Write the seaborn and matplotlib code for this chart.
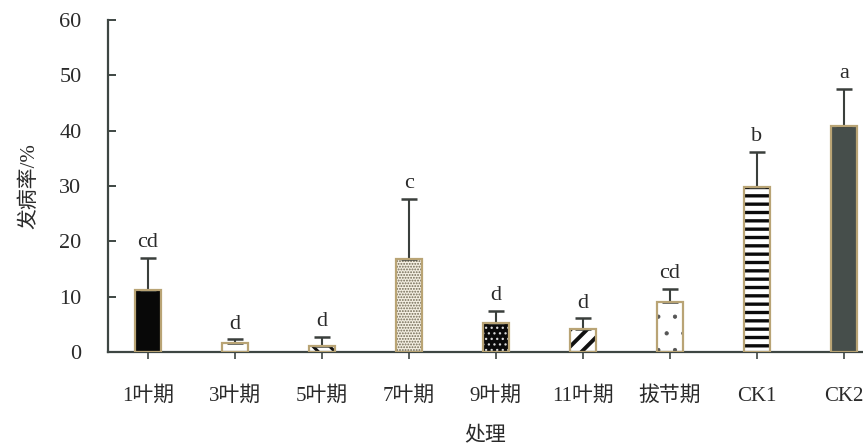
import matplotlib
matplotlib.use("Agg")
import matplotlib.pyplot as plt
from matplotlib.patches import Rectangle
import seaborn as sns
import pandas as pd

# Data: incidence (%) by treatment, upper error, significance letters
treatments = ["1叶期", "3叶期", "5叶期", "7叶期", "9叶期", "11叶期", "拔节期", "CK1", "CK2"]
incidence = [11.2, 1.6, 1.1, 16.8, 5.2, 4.1, 9.0, 29.8, 40.9]
error = [5.8, 0.7, 1.6, 10.9, 2.2, 2.0, 2.4, 6.4, 6.7]
letters = ["cd", "d", "d", "c", "d", "d", "cd", "b", "a"]

# Fill style per bar: (face colour, hatch colour, hatch pattern, hatch line width)
fills = [
    ("#080808", "#080808", "", 1.0),
    ("white", "#222222", "", 1.0),
    ("white", "#111111", "\\\\", 2.2),
    ("#f4efe2", "#6f6852", "......", 0.9),
    ("#0a0a0a", "#d8d8d8", "...", 0.9),
    ("white", "#111111", "//", 2.8),
    ("white", "#555555", ".", 0.6),
    ("white", "#0a0a0a", "--", 2.4),
    ("#464e4b", "#464e4b", "", 1.0),
]
edge_col = "#b9a475"
axis_col = "#3e4643"
text_col = "#2a2a2a"

df = pd.DataFrame({"treatment": treatments, "incidence": incidence})

sns.set_style("white")
plt.rcParams["font.family"] = ["Liberation Serif", "Noto Sans CJK SC"]

fig = plt.figure(figsize=(8.63, 4.46), dpi=100)
ax = fig.add_axes([0.125, 0.211, 0.875, 0.744])

sns.barplot(data=df, x="treatment", y="incidence", order=treatments,
            width=0.3, errorbar=None, ax=ax, color="white")

for p, (face, hcol, hatch, hlw) in zip(ax.patches, fills):
    p.set_facecolor(face)
    p.set_edgecolor(hcol)
    p.set_hatch(hatch)
    p.set_linewidth(0)
    if hasattr(p, "set_hatch_linewidth"):
        p.set_hatch_linewidth(hlw)
    else:
        p._hatch_linewidth = hlw
    # outline in the tan border colour on top of the hatch
    ax.add_patch(Rectangle((p.get_x(), p.get_y()), p.get_width(), p.get_height(),
                           fill=False, edgecolor=edge_col, linewidth=1.6, zorder=3))

xs = list(range(len(treatments)))
ax.errorbar(xs, incidence, yerr=[[0] * len(error), error], fmt="none",
            ecolor="#3a3f3c", elinewidth=1.5, capsize=6, capthick=1.8, zorder=2)

for x, v, e, lab in zip(xs, incidence, error, letters):
    ax.text(x, v + e + 1.0, lab, ha="center", va="bottom", fontsize=16, color=text_col)

ax.set_ylim(0, 60)
ax.set_xlim(-0.46, 8.22)
ax.set_yticks([0, 10, 20, 30, 40, 50, 60])

for s in ["top", "right"]:
    ax.spines[s].set_visible(False)
for s in ["left", "bottom"]:
    ax.spines[s].set_color(axis_col)
    ax.spines[s].set_linewidth(1.6)

ax.tick_params(axis="y", direction="in", length=6, width=1.4, color=axis_col,
               pad=19, labelsize=16, labelcolor=text_col, left=True)
ax.tick_params(axis="x", direction="out", length=5, width=1.2, color=axis_col,
               pad=20, labelsize=15, labelcolor=text_col, bottom=True)

ax.set_xlabel("处理", fontsize=15, color=text_col, labelpad=15)
ax.set_ylabel("发病率/%", fontsize=15, color=text_col, labelpad=14)

fig.savefig("out.png", dpi=100)
